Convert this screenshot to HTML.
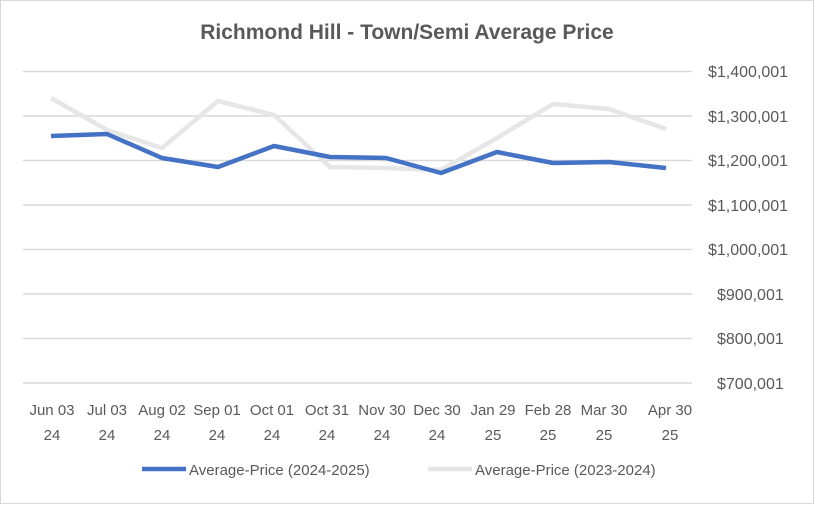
<!DOCTYPE html>
<html><head><style>
body{margin:0;background:#fff;}
svg text{font-family:"Liberation Sans",sans-serif;fill:#595959;}
</style></head><body>
<svg width="814" height="504" xmlns="http://www.w3.org/2000/svg">
<rect x="0.5" y="0.5" width="813" height="503" fill="#fff" stroke="#d9d9d9"/>
<text x="407" y="39" text-anchor="middle" font-size="21" font-weight="bold">Richmond Hill - Town/Semi Average Price</text>
<g stroke="#d9d9d9" stroke-width="1.5">
<line x1="23" x2="692" y1="71.5" y2="71.5"/><line x1="23" x2="692" y1="116" y2="116"/>
<line x1="23" x2="692" y1="160.5" y2="160.5"/><line x1="23" x2="692" y1="205" y2="205"/>
<line x1="23" x2="692" y1="249.5" y2="249.5"/><line x1="23" x2="692" y1="294" y2="294"/>
<line x1="23" x2="692" y1="338.5" y2="338.5"/><line x1="23" x2="692" y1="383" y2="383"/>
</g>
<g font-size="16" text-anchor="start">
<text x="708" y="77">$1,400,001</text><text x="708" y="122">$1,300,001</text>
<text x="708" y="166">$1,200,001</text><text x="708" y="211">$1,100,001</text>
<text x="708" y="255">$1,000,001</text><text x="717" y="300">$900,001</text>
<text x="717" y="344">$800,001</text><text x="717" y="389">$700,001</text>
</g>
<polyline fill="none" stroke="#e7e6e6" stroke-width="4.5" stroke-linejoin="round" points="51,98 107,130 162,148 218,101 274,115 330,167 386,168 441,170 497,138 553,104 609,109 666,129"/>
<polyline fill="none" stroke="#4472c4" stroke-width="4.5" stroke-linejoin="round" points="51,136 107,134 162,158 218,167 274,146 330,157 386,158 441,173 497,152 553,163 609,162 666,168"/>
<g font-size="15" text-anchor="middle">
<text x="52" y="415">Jun 03</text><text x="52" y="440">24</text>
<text x="107" y="415">Jul 03</text><text x="107" y="440">24</text>
<text x="162" y="415">Aug 02</text><text x="162" y="440">24</text>
<text x="217" y="415">Sep 01</text><text x="217" y="440">24</text>
<text x="272" y="415">Oct 01</text><text x="272" y="440">24</text>
<text x="327" y="415">Oct 31</text><text x="327" y="440">24</text>
<text x="382" y="415">Nov 30</text><text x="382" y="440">24</text>
<text x="437" y="415">Dec 30</text><text x="437" y="440">24</text>
<text x="493" y="415">Jan 29</text><text x="493" y="440">25</text>
<text x="548" y="415">Feb 28</text><text x="548" y="440">25</text>
<text x="604" y="415">Mar 30</text><text x="604" y="440">25</text>
<text x="670" y="415">Apr 30</text><text x="670" y="440">25</text>
</g>
<line x1="142" x2="186" y1="469" y2="469" stroke="#4472c4" stroke-width="4.5"/>
<text x="189" y="475" font-size="15">Average-Price (2024-2025)</text>
<line x1="428" x2="472" y1="469" y2="469" stroke="#e7e6e6" stroke-width="4.5"/>
<text x="475" y="475" font-size="15">Average-Price (2023-2024)</text>
</svg>
</body></html>
